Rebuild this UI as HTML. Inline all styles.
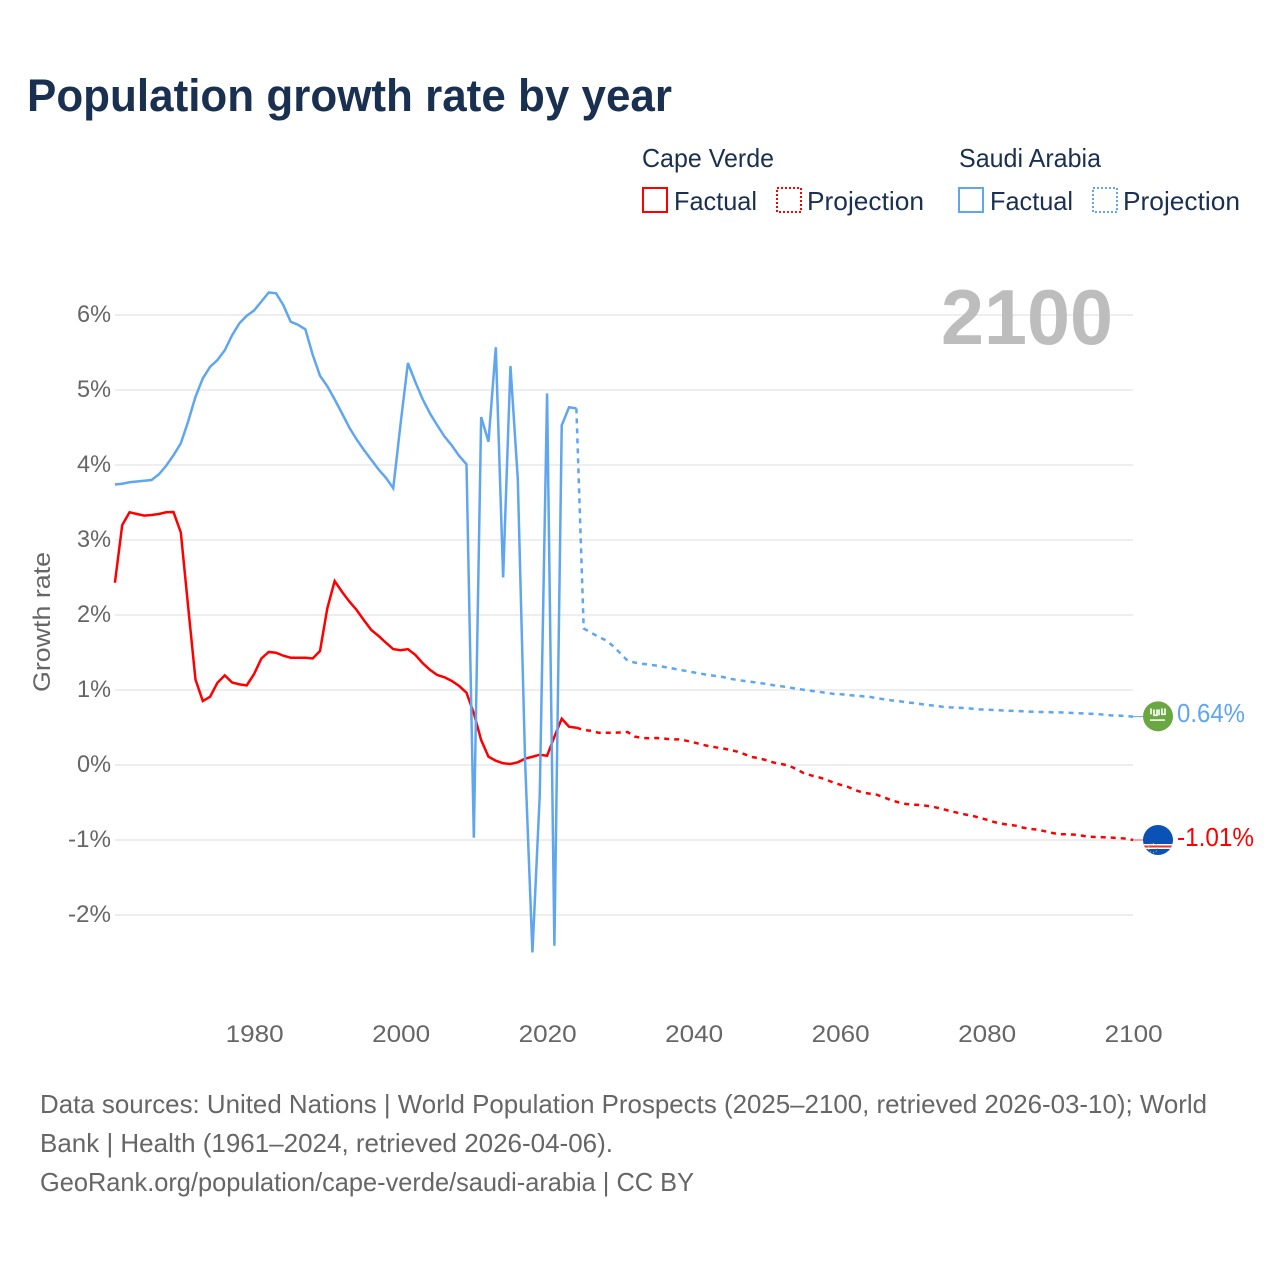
<!DOCTYPE html>
<html lang="en">
<head>
<meta charset="utf-8">
<title>Population growth rate by year</title>
<style>
html,body{margin:0;padding:0;background:#fff;width:1280px;height:1280px;overflow:hidden}
svg{display:block;font-family:"Liberation Sans",sans-serif}
</style>
</head>
<body>
<svg id="chart" xmlns="http://www.w3.org/2000/svg" width="1280" height="1280" viewBox="0 0 1280 1280">
  <rect x="0" y="0" width="1280" height="1280" fill="#fff"/>
  <text x="27" y="111" font-size="45" font-weight="bold" fill="#1a3050" textLength="645" lengthAdjust="spacingAndGlyphs">Population growth rate by year</text>

  <g font-size="26" fill="#1a3050">
    <text x="642" y="167" textLength="132" lengthAdjust="spacingAndGlyphs">Cape Verde</text>
    <text x="959" y="167" textLength="142" lengthAdjust="spacingAndGlyphs">Saudi Arabia</text>
    <rect x="643" y="188" width="24" height="24" fill="none" stroke="#ff0000" stroke-width="2"/>
    <text x="674" y="210" textLength="83" lengthAdjust="spacingAndGlyphs">Factual</text>
    <rect x="777" y="188" width="24" height="24" fill="none" stroke="#ff0000" stroke-width="2" stroke-dasharray="2,2"/>
    <text x="807" y="210" textLength="117" lengthAdjust="spacingAndGlyphs">Projection</text>
    <rect x="959" y="188" width="24" height="24" fill="none" stroke="#5fa6ee" stroke-width="2"/>
    <text x="990" y="210" textLength="83" lengthAdjust="spacingAndGlyphs">Factual</text>
    <rect x="1093" y="188" width="24" height="24" fill="none" stroke="#5fa6ee" stroke-width="2" stroke-dasharray="2,2"/>
    <text x="1123" y="210" textLength="117" lengthAdjust="spacingAndGlyphs">Projection</text>
  </g>

  <g id="grid"></g>
  <g id="yticks" font-size="24" fill="#666"></g>
  <g id="xticks" font-size="24" fill="#666"></g>
  <text transform="translate(50,622) rotate(-90)" text-anchor="middle" font-size="24" fill="#666" textLength="140" lengthAdjust="spacingAndGlyphs">Growth rate</text>

  <text x="941" y="344" font-size="78" font-weight="bold" fill="#bdbdbd" textLength="172" lengthAdjust="spacingAndGlyphs">2100</text>

  <g id="series"></g>

  <g id="flag-saudi">
    <circle cx="1158" cy="716" r="15" fill="#6aa642"/>
    <path d="M1151 708v6M1154 709v6h3v-6M1159 709v6M1162 708v6h3v-6" fill="none" stroke="#fff" stroke-width="1.6"/>
    <rect x="1150" y="719" width="15" height="1.5" fill="#fff"/>
  </g>
  <g id="flag-cape-verde">
    <clipPath id="cv-clip"><circle cx="1158" cy="840" r="15"/></clipPath>
    <g clip-path="url(#cv-clip)">
      <rect x="1142" y="824" width="32" height="32" fill="#0a52b5"/>
      <rect x="1142" y="844" width="32" height="5" fill="#fff"/>
      <rect x="1142" y="845.5" width="32" height="2" fill="#e8303a"/>
      <circle cx="1153" cy="848" r="4.5" fill="none" stroke="#d8c84a" stroke-width="1" stroke-dasharray="1,2"/>
    </g>
  </g>
  <text id="label-saudi" x="1177" y="722" font-size="26" fill="#5fa6ee" textLength="68" lengthAdjust="spacingAndGlyphs"></text>
  <text id="label-cape" x="1177" y="846" font-size="26" fill="#ff0000" textLength="77" lengthAdjust="spacingAndGlyphs"></text>

  <g font-size="26" fill="#666">
    <text x="40" y="1113" textLength="1167" lengthAdjust="spacingAndGlyphs">Data sources: United Nations | World Population Prospects (2025–2100, retrieved 2026-03-10); World</text>
    <text x="40" y="1152" textLength="573" lengthAdjust="spacingAndGlyphs">Bank | Health (1961–2024, retrieved 2026-04-06).</text>
    <text x="40" y="1191" textLength="654" lengthAdjust="spacingAndGlyphs">GeoRank.org/population/cape-verde/saudi-arabia | CC BY</text>
  </g>
</svg>

<script>
const factualStartYear = 1961;
const projectionStartYear = 2024;
const xTickYears = [1980, 2000, 2020, 2040, 2060, 2080, 2100];
const yTickValues = [6, 5, 4, 3, 2, 1, 0, -1, -2];
const saudiEndLabel = "0.64%";
const capeEndLabel = "-1.01%";

const saudiFactual = [3.74,3.75,3.77,3.78,3.79,3.80,3.875,3.99,4.13,4.29,4.58,4.91,5.155,5.31,5.40,5.53,5.73,5.89,5.99,6.06,6.18,6.30,6.29,6.13,5.91,5.87,5.81,5.47,5.19,5.05,4.875,4.69,4.50,4.34,4.20,4.07,3.94,3.83,3.69,4.55,5.36,5.11,4.88,4.69,4.53,4.38,4.26,4.12,4.01,-0.97,4.64,4.31,5.57,2.50,5.32,3.82,0.05,-2.50,-0.40,4.955,-2.41,4.53,4.77,4.755];
const saudiProjection = [4.755,1.82,1.765,1.71,1.665,1.587,1.49,1.39,1.365,1.35,1.337,1.325,1.307,1.29,1.27,1.253,1.235,1.218,1.20,1.187,1.173,1.15,1.133,1.12,1.107,1.093,1.08,1.062,1.05,1.035,1.017,1.004,0.99,0.977,0.964,0.95,0.945,0.935,0.925,0.917,0.91,0.889,0.876,0.862,0.853,0.835,0.827,0.813,0.80,0.79,0.777,0.769,0.764,0.76,0.751,0.742,0.738,0.733,0.729,0.724,0.72,0.716,0.711,0.707,0.707,0.702,0.702,0.698,0.693,0.689,0.684,0.68,0.671,0.662,0.658,0.653,0.645];
const capeFactual = [2.43,3.20,3.37,3.347,3.325,3.333,3.347,3.37,3.373,3.10,2.11,1.14,0.853,0.91,1.097,1.195,1.10,1.075,1.062,1.213,1.42,1.507,1.497,1.457,1.43,1.43,1.43,1.42,1.52,2.09,2.453,2.31,2.18,2.067,1.93,1.80,1.72,1.63,1.545,1.53,1.545,1.47,1.36,1.27,1.20,1.17,1.12,1.053,0.964,0.69,0.333,0.11,0.057,0.023,0.013,0.036,0.084,0.11,0.137,0.124,0.377,0.617,0.51,0.497];
const capeProjection = [0.497,0.467,0.457,0.43,0.43,0.43,0.434,0.44,0.378,0.36,0.356,0.36,0.351,0.342,0.342,0.324,0.302,0.276,0.253,0.236,0.222,0.20,0.178,0.142,0.107,0.089,0.062,0.031,0.013,-0.009,-0.053,-0.107,-0.138,-0.16,-0.191,-0.231,-0.262,-0.289,-0.333,-0.364,-0.382,-0.396,-0.431,-0.471,-0.498,-0.52,-0.529,-0.533,-0.547,-0.564,-0.587,-0.613,-0.636,-0.658,-0.676,-0.702,-0.729,-0.76,-0.782,-0.796,-0.809,-0.836,-0.853,-0.862,-0.884,-0.907,-0.924,-0.924,-0.929,-0.942,-0.956,-0.96,-0.964,-0.969,-0.973,-0.982,-1.0];

const SVGNS = "http://www.w3.org/2000/svg";
function xScale(year) { return 114.9 + (year - 1961) * 7.325; }
function yScale(value) { return 765 - value * 75; }

function linePath(values, startYear) {
  return values.map(function (v, i) {
    return (i ? "L" : "M") + xScale(startYear + i).toFixed(2) + " " + yScale(v).toFixed(2);
  }).join("");
}

const grid = document.getElementById("grid");
const yticks = document.getElementById("yticks");
yTickValues.forEach(function (v) {
  const line = document.createElementNS(SVGNS, "line");
  
  
  line.setAttribute("x1", 115);
  line.setAttribute("x2", 1133);
  line.setAttribute("y1", yScale(v));
  line.setAttribute("y2", yScale(v));
  line.setAttribute("stroke", "#eeeeee");
  line.setAttribute("stroke-width", "2");
  grid.appendChild(line);

  const t = document.createElementNS(SVGNS, "text");
  
  
  t.setAttribute("x", 111);
  t.setAttribute("y", yScale(v) + 7);
  t.setAttribute("text-anchor", "end");
  t.setAttribute("textLength", v < 0 ? 43 : 34);
  t.setAttribute("lengthAdjust", "spacingAndGlyphs");
  t.textContent = v + "%";
  yticks.appendChild(t);
});

const xticks = document.getElementById("xticks");
xTickYears.forEach(function (yr) {
  const t = document.createElementNS(SVGNS, "text");
  
  
  t.setAttribute("x", xScale(yr) + 0.6);
  t.setAttribute("y", 1042);
  t.setAttribute("text-anchor", "middle");
  t.setAttribute("textLength", 58);
  t.setAttribute("lengthAdjust", "spacingAndGlyphs");
  t.textContent = yr;
  xticks.appendChild(t);
});

const seriesGroup = document.getElementById("series");

const pathCapeFactual = document.createElementNS(SVGNS, "path");


pathCapeFactual.setAttribute("d", linePath(capeFactual, factualStartYear));
pathCapeFactual.setAttribute("fill", "none");
pathCapeFactual.setAttribute("stroke", "#ff0000");
pathCapeFactual.setAttribute("stroke-width", "2.5");
seriesGroup.appendChild(pathCapeFactual);

const pathCapeProjection = document.createElementNS(SVGNS, "path");


pathCapeProjection.setAttribute("d", linePath(capeProjection, projectionStartYear));
pathCapeProjection.setAttribute("fill", "none");
pathCapeProjection.setAttribute("stroke", "#ff0000");
pathCapeProjection.setAttribute("stroke-width", "2.5");
pathCapeProjection.setAttribute("stroke-dasharray", "5,5");
seriesGroup.appendChild(pathCapeProjection);

const pathSaudiFactual = document.createElementNS(SVGNS, "path");


pathSaudiFactual.setAttribute("d", linePath(saudiFactual, factualStartYear));
pathSaudiFactual.setAttribute("fill", "none");
pathSaudiFactual.setAttribute("stroke", "#5fa6ee");
pathSaudiFactual.setAttribute("stroke-width", "2.5");
seriesGroup.appendChild(pathSaudiFactual);

const pathSaudiProjection = document.createElementNS(SVGNS, "path");


pathSaudiProjection.setAttribute("d", linePath(saudiProjection, projectionStartYear));
pathSaudiProjection.setAttribute("fill", "none");
pathSaudiProjection.setAttribute("stroke", "#5fa6ee");
pathSaudiProjection.setAttribute("stroke-width", "2.5");
pathSaudiProjection.setAttribute("stroke-dasharray", "5,5");
seriesGroup.appendChild(pathSaudiProjection);

const endSaudi = saudiProjection[saudiProjection.length - 1];
const connSaudi = document.createElementNS(SVGNS, "line");


connSaudi.setAttribute("x1", xScale(2100));
connSaudi.setAttribute("x2", 1143);
connSaudi.setAttribute("y1", yScale(endSaudi));
connSaudi.setAttribute("y2", yScale(endSaudi));
connSaudi.setAttribute("stroke", "#5fa6ee");
connSaudi.setAttribute("stroke-width", "1");
seriesGroup.appendChild(connSaudi);

const endCape = capeProjection[capeProjection.length - 1];
const connCape = document.createElementNS(SVGNS, "line");


connCape.setAttribute("x1", xScale(2100));
connCape.setAttribute("x2", 1143);
connCape.setAttribute("y1", yScale(endCape));
connCape.setAttribute("y2", yScale(endCape));
connCape.setAttribute("stroke", "#ff4444");
connCape.setAttribute("stroke-width", "1");
seriesGroup.appendChild(connCape);

document.getElementById("flag-saudi").setAttribute("transform", "translate(0," + (yScale(endSaudi) - 716.3) + ")");
document.getElementById("flag-cape-verde").setAttribute("transform", "translate(0," + (yScale(endCape) - 840) + ")");
document.getElementById("label-saudi").textContent = saudiEndLabel;
document.getElementById("label-cape").textContent = capeEndLabel;
</script>
</body>
</html>
